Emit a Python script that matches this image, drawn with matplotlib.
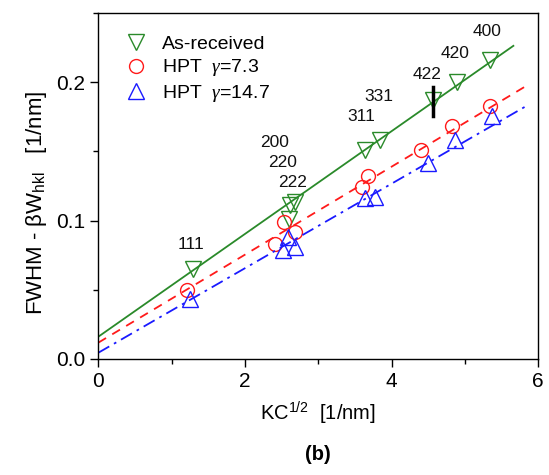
import matplotlib
matplotlib.use("Agg")
import matplotlib.pyplot as plt
import numpy as np
from matplotlib.ticker import MultipleLocator, FormatStrFormatter

plt.rcParams['font.family'] = ['Liberation Sans', 'DejaVu Sans']
plt.rcParams['mathtext.fontset'] = 'custom'
plt.rcParams['mathtext.rm'] = 'Liberation Sans'
plt.rcParams['mathtext.it'] = 'Liberation Serif:italic'

# As-received (green down-triangles)
ar_x = [1.296, 2.605, 2.62, 2.68, 3.637, 3.842, 4.568, 4.887, 5.342]
ar_y = [0.0648, 0.101, 0.1115, 0.1135, 0.1512, 0.1585, 0.1875, 0.200, 0.2165]
# HPT gamma=7.3 (red circles)
h1_x = [1.205, 2.41, 2.537, 2.682, 3.59, 3.68, 4.40, 4.82, 5.342]
h1_y = [0.0498, 0.0829, 0.0986, 0.092, 0.1240, 0.132, 0.1507, 0.1686, 0.1826]
# HPT gamma=14.7 (blue up-triangles)
h2_x = [1.25, 2.514, 2.59, 2.68, 3.637, 3.77, 4.50, 4.865, 5.364]
h2_y = [0.043, 0.0788, 0.0884, 0.0812, 0.1162, 0.1174, 0.142, 0.1585, 0.1754]

# linear fits (intercept, slope, x end)
ar_fit = (0.0159, 0.0372, 5.66)
h1_fit = (0.0116, 0.03185, 5.84)
h2_fit = (0.0043, 0.0306, 5.82)

# reflection labels
hkl_labels = ['111', '200', '220', '222', '311', '331', '422', '420', '400']
hkl_x = [1.26, 2.40, 2.51, 2.65, 3.58, 3.83, 4.48, 4.86, 5.30]
hkl_y = [0.0824, 0.1565, 0.142, 0.1275, 0.175, 0.190, 0.2056, 0.221, 0.2365]

# vertical bar marker
bar_x = 4.57
bar_y = (0.1754, 0.1966)

fig = plt.figure(figsize=(5.49, 4.75), dpi=100)
ax = fig.add_axes([98.3/549, 1-358.7/475, 440/549, 345.4/475])

ax.plot(ar_x, ar_y, linestyle='none', marker='v', ms=12, mfc='none', mec='#2a8a2a', mew=1.0, label='As-received')
ax.plot(h1_x, h1_y, linestyle='none', marker='o', ms=10, mfc='none', mec='#ff1a1a', mew=1.0, label='HPT  $\\it{\\gamma}$=7.3')
ax.plot(h2_x, h2_y, linestyle='none', marker='^', ms=12, mfc='none', mec='#1a1aff', mew=1.0, label='HPT  $\\it{\\gamma}$=14.7')

for (b0, b1, xe), col, ls in [(ar_fit, '#2a8a2a', '-'), (h1_fit, '#ff1a1a', (0, (5, 4))), (h2_fit, '#1a1aff', (0, (7, 3, 1.5, 3)))]:
    xx = np.array([0.0, xe])
    ax.plot(xx, b0 + b1*xx, color=col, linestyle=ls, lw=1.3)

ax.plot([bar_x, bar_x], bar_y, color='black', lw=2.5)

for t, x, y in zip(hkl_labels, hkl_x, hkl_y):
    ax.text(x, y, t, ha='center', va='center', fontsize=12.5, color='#111111')

ax.set_xlim(0, 6)
ax.set_ylim(0, 0.25)
ax.xaxis.set_major_locator(MultipleLocator(2))
ax.xaxis.set_minor_locator(MultipleLocator(1))
ax.yaxis.set_major_locator(MultipleLocator(0.1))
ax.yaxis.set_minor_locator(MultipleLocator(0.05))
ax.yaxis.set_major_formatter(FormatStrFormatter('%.1f'))
ax.tick_params(which='major', direction='out', length=6, width=1, labelsize=15)
ax.tick_params(which='minor', direction='out', length=3.5, width=1)
for s in ax.spines.values():
    s.set_linewidth(1.0)

ax.set_xlabel('KC$^{1/2}$  [1/nm]', fontsize=14.5, labelpad=6)
ax.set_ylabel('FWHM - \u03b2W$_{\\rm hkl}$   [1/nm]', fontsize=16)
ax.yaxis.set_label_coords(-0.112, 0.45)

leg = ax.legend(loc='upper left', frameon=False, fontsize=14, handletextpad=0.35,
                labelspacing=0.22, borderaxespad=0.3, bbox_to_anchor=(0.01, 0.975))

fig.text(318/549, 1-455/475, '(b)', ha='center', va='center', fontsize=14.5, fontweight='bold')

fig.savefig('out.png', dpi=100)
